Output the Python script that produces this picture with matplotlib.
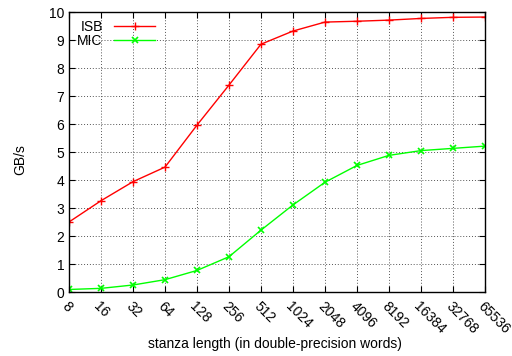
import matplotlib
matplotlib.use("Agg")
import matplotlib.pyplot as plt

plt.rcParams['font.family'] = ['Liberation Sans', 'DejaVu Sans']

# stanza length (double-precision words) and bandwidth in GB/s
stanza = [8, 16, 32, 64, 128, 256, 512, 1024, 2048, 4096, 8192, 16384, 32768, 65536]
stanza_labels = [str(s) for s in stanza]
isb = [2.50, 3.26, 3.94, 4.46, 5.96, 7.39, 8.85, 9.32, 9.64, 9.67, 9.71, 9.77, 9.81, 9.82]
mic = [0.09, 0.13, 0.25, 0.44, 0.77, 1.26, 2.21, 3.11, 3.92, 4.52, 4.88, 5.05, 5.13, 5.21]

fig = plt.figure(figsize=(5.12, 3.56), dpi=100)
ax = fig.add_axes([69/512, 64/356, 416/512, 280/356])

ax.plot(stanza, isb, color='#ff0000', marker='+', markersize=6, lw=1, label='ISB')
ax.plot(stanza, mic, color='#00ff00', marker='x', markersize=4.5, mew=1.2, lw=1, label='MIC')

ax.set_xscale('log', base=2)
ax.set_xlim(8, 65536)
ax.set_ylim(0, 10)
ax.set_xticks(stanza)
ax.set_xticklabels(stanza_labels, rotation=-45, ha='left', va='top', rotation_mode='anchor')
ax.set_yticks(range(0, 11))
ax.minorticks_off()
ax.tick_params(direction='in', top=True, right=True, length=4, labelsize=10, width=0.8)
ax.tick_params(axis='x', pad=5)

ax.grid(True, color='#555555', linestyle=(0, (1, 2)), lw=0.7)
for s in ax.spines.values():
    s.set_linewidth(1)

# axis titles placed in figure pixels, like the gnuplot original
fig.text(20/512, 1 - 160/356, 'GB/s', fontsize=10, rotation=90, ha='center', va='center')
fig.text(275/512, 1 - 344/356, 'stanza length (in double-precision words)',
         fontsize=10, ha='center', va='center')

leg = ax.legend(loc='upper left', frameon=False, fontsize=10, markerfirst=False,
                handlelength=3, borderaxespad=0.2, labelspacing=-0.05, handletextpad=0.8)
for t in leg.get_texts():
    t.set_ha('right')

fig.savefig('out.png', dpi=100)
